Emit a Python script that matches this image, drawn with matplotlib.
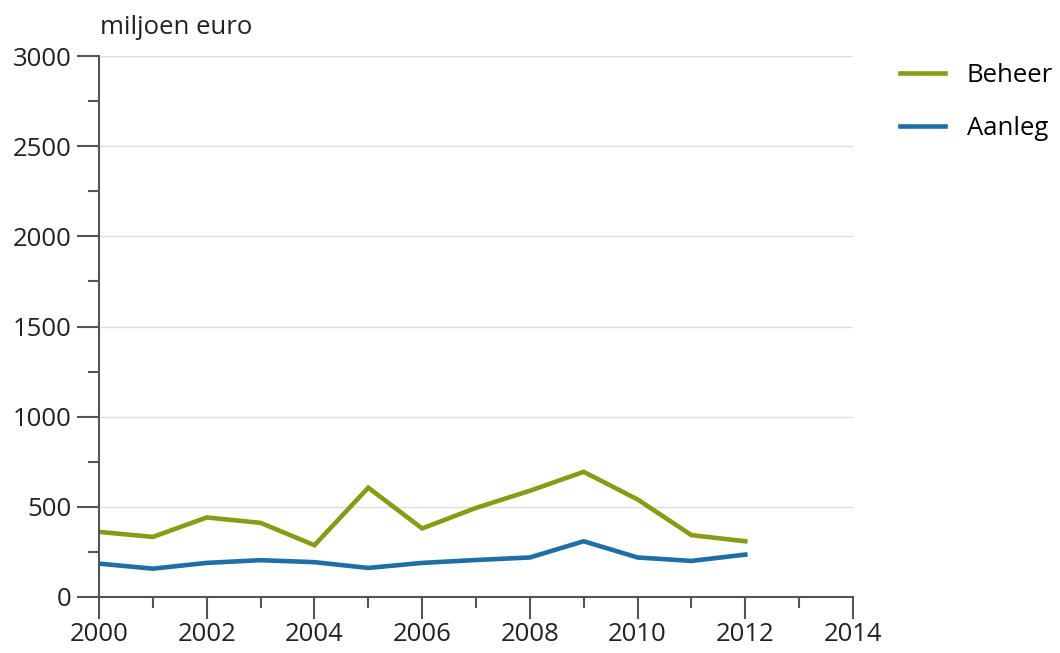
import matplotlib
matplotlib.use("Agg")
import matplotlib.pyplot as plt
from matplotlib.ticker import MultipleLocator

# Data (miljoen euro)
years = [2000, 2001, 2002, 2003, 2004, 2005, 2006, 2007, 2008, 2009, 2010, 2011, 2012]
beheer = [361, 333, 441, 411, 287, 606, 380, 494, 589, 694, 541, 343, 309]
aanleg = [185, 157, 189, 204, 193, 161, 189, 205, 219, 309, 219, 200, 235]

GREEN = '#8a9a12'
BLUE = '#1d6fa5'
AXIS = '#555555'
FS = 18.5

plt.rcParams['font.family'] = ['Open Sans', 'DejaVu Sans']

fig = plt.figure(figsize=(10.6, 6.53), dpi=100)
ax = fig.add_axes([0.0934, 0.0858, 0.7113, 0.8284])

ax.plot(years, beheer, color=GREEN, lw=3.3, label='Beheer', solid_joinstyle='miter')
ax.plot(years, aanleg, color=BLUE, lw=3.3, label='Aanleg', solid_joinstyle='miter')

ax.set_xlim(2000, 2014)
ax.set_ylim(0, 3000)
ax.xaxis.set_major_locator(MultipleLocator(2))
ax.xaxis.set_minor_locator(MultipleLocator(1))
ax.yaxis.set_major_locator(MultipleLocator(500))
ax.yaxis.set_minor_locator(MultipleLocator(250))

ax.grid(axis='y', which='major', color='#dddddd', lw=1)
ax.set_axisbelow(True)
for s in ['top', 'right']:
    ax.spines[s].set_visible(False)
for s in ['left', 'bottom']:
    ax.spines[s].set_color(AXIS)
    ax.spines[s].set_linewidth(1.5)

ax.tick_params(which='major', length=16, width=1.5, color=AXIS, labelsize=FS, labelcolor='#222222')
ax.tick_params(axis='y', which='major', pad=4)
ax.tick_params(axis='x', which='major', pad=2)
ax.tick_params(which='minor', length=8, width=1.5, color=AXIS)

fig.text(100 / 1060, 1 - 27 / 653, 'miljoen euro', fontsize=FS, color='#222222', ha='left', va='center')

ax.legend(loc='upper left', bbox_to_anchor=(1.062, 0.987), frameon=False, fontsize=FS,
          borderaxespad=0, borderpad=0,
          handlelength=1.75, handletextpad=0.85, labelspacing=1.08)

fig.savefig('out.png', dpi=100)
